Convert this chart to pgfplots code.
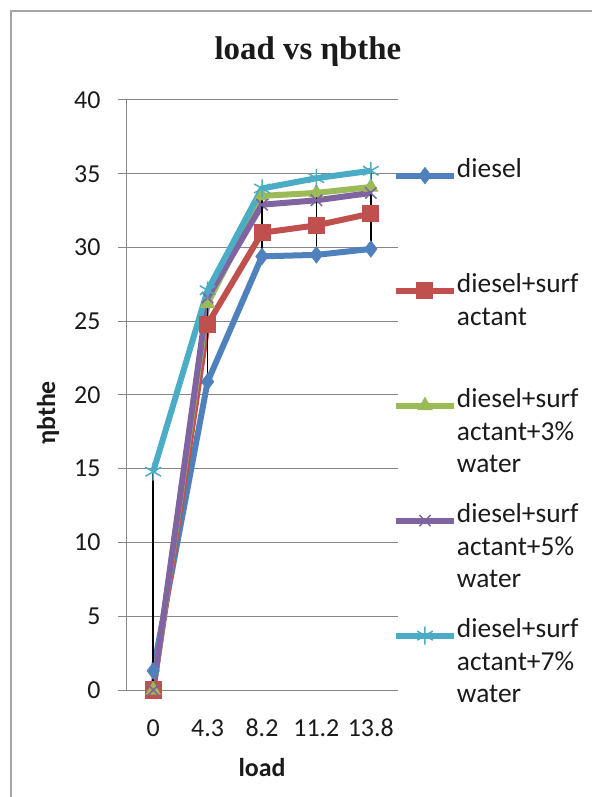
\documentclass[border=0pt]{standalone}
\usepackage{fontspec}
\setmainfont{Carlito}
\newfontfamily\titlefont{Liberation Serif}
\usepackage{pgfplots}
\pgfplotsset{compat=1.18}

\definecolor{sBlue}{HTML}{4F81BD}
\definecolor{sRed}{HTML}{C0504D}
\definecolor{sGreen}{HTML}{9BBB59}
\definecolor{sPurple}{HTML}{8064A2}
\definecolor{sCyan}{HTML}{4BACC6}
\definecolor{gridgray}{HTML}{868686}
\definecolor{framegray}{HTML}{A6A6A6}
\definecolor{txt}{HTML}{1A1A1A}

% legend text: baseline on first line
\newcommand{\entry}[1]{\parbox[t]{140bp}{\raggedright #1}}

\begin{document}
\begin{tikzpicture}
\useasboundingbox (0,0) rectangle (592bp,797bp);
\draw[framegray, line width=2bp] (11bp,0bp) -- (11bp,786bp) -- (592bp,786bp);
\begin{axis}[
    at={(126bp,107bp)}, anchor=south west,
    scale only axis, width=272bp, height=590bp,
    xmin=-0.5, xmax=4.5, ymin=0, ymax=40,
    clip=false,
    axis x line*=bottom, axis y line*=left,
    axis line style={gridgray, line width=1bp, -},
    ytick={0,5,...,40},
    xtick={0,1,2,3,4},
    xticklabels={0,4.3,8.2,11.2,13.8},
    ymajorgrids, grid style={gridgray, line width=1bp},
    tick align=outside, major tick length=8bp,
    ytick style={gridgray, line width=1bp},
    xtick style={draw=none},
    /pgf/number format/assume math mode=true,
    tick label style={font=\fontsize{26}{28}\selectfont, text=txt},
    yticklabel style={anchor=east, xshift=-14bp},
    xticklabel style={anchor=center, yshift=-30bp},
    title={load vs ηbthe},
    title style={at={(axis description cs:0.669,1.0712)}, anchor=center,
        font=\titlefont\bfseries\fontsize{33}{35}\selectfont, text=txt},
    xlabel={load},
    xlabel style={at={(axis description cs:0.5,-0.1322)}, anchor=center,
        font=\bfseries\fontsize{26}{28}\selectfont, text=txt},
    legend style={draw=none, fill=none, inner sep=0pt, outer sep=0pt,
        at={(axis description cs:0.9816,0.9017)}, anchor=north west,
        row sep=0pt, column sep=0bp,
        font=\fontsize{27.5}{32.5}\selectfont, text=txt,
        nodes={inner sep=0pt, text height=20bp, text depth=95bp},
        cells={anchor=mid west}},
    legend image code/.code={%
        \draw[mark repeat=2, mark phase=2]
            plot coordinates {(0bp,0bp) (29bp,0bp) (58bp,0bp)};},
    every axis plot/.append style={line width=6bp},
]

\addplot[sBlue, mark=diamond*, mark size=8bp, mark options={line width=1bp}] coordinates {
    (0,1.3) (1,20.9) (2,29.4) (3,29.5) (4,29.9)
};
\addlegendentry{\entry{diesel}}

\addplot[sRed, mark=square*, mark size=8bp, mark options={line width=1bp}] coordinates {
    (0,0) (1,24.8) (2,31.0) (3,31.5) (4,32.3)
};
\addlegendentry{\entry{diesel+surf\\actant}}

\addplot[sGreen, mark=triangle*, mark size=8bp, mark options={line width=1bp}] coordinates {
    (0,0) (1,26.2) (2,33.5) (3,33.7) (4,34.1)
};
\addlegendentry{\entry{diesel+surf\\actant+3\%\\water}}

\addplot[sPurple, mark=x, mark size=8bp, mark options={line width=1.5bp}] coordinates {
    (0,0) (1,26.6) (2,32.9) (3,33.2) (4,33.7)
};
\addlegendentry{\entry{diesel+surf\\actant+5\%\\water}}

\addplot[sCyan, mark=asterisk, mark size=9bp, mark options={line width=1.5bp}] coordinates {
    (0,14.8) (1,27.1) (2,34.0) (3,34.7) (4,35.2)
};
\addlegendentry{\entry{diesel+surf\\actant+7\%\\water}}

% high-low lines
\addplot[black, line width=1.5bp, forget plot] coordinates {(0,0) (0,14.8)};
\addplot[black, line width=1.5bp, forget plot] coordinates {(1,20.9) (1,27.1)};
\addplot[black, line width=1.5bp, forget plot] coordinates {(2,29.4) (2,34.0)};
\addplot[black, line width=1.5bp, forget plot] coordinates {(3,29.5) (3,34.7)};
\addplot[black, line width=1.5bp, forget plot] coordinates {(4,29.9) (4,35.2)};

\end{axis}
\node[rotate=90, anchor=center, font=\bfseries\fontsize{26}{28}\selectfont, text=txt]
    at (48bp,384bp) {ηbthe};
\end{tikzpicture}
\end{document}
